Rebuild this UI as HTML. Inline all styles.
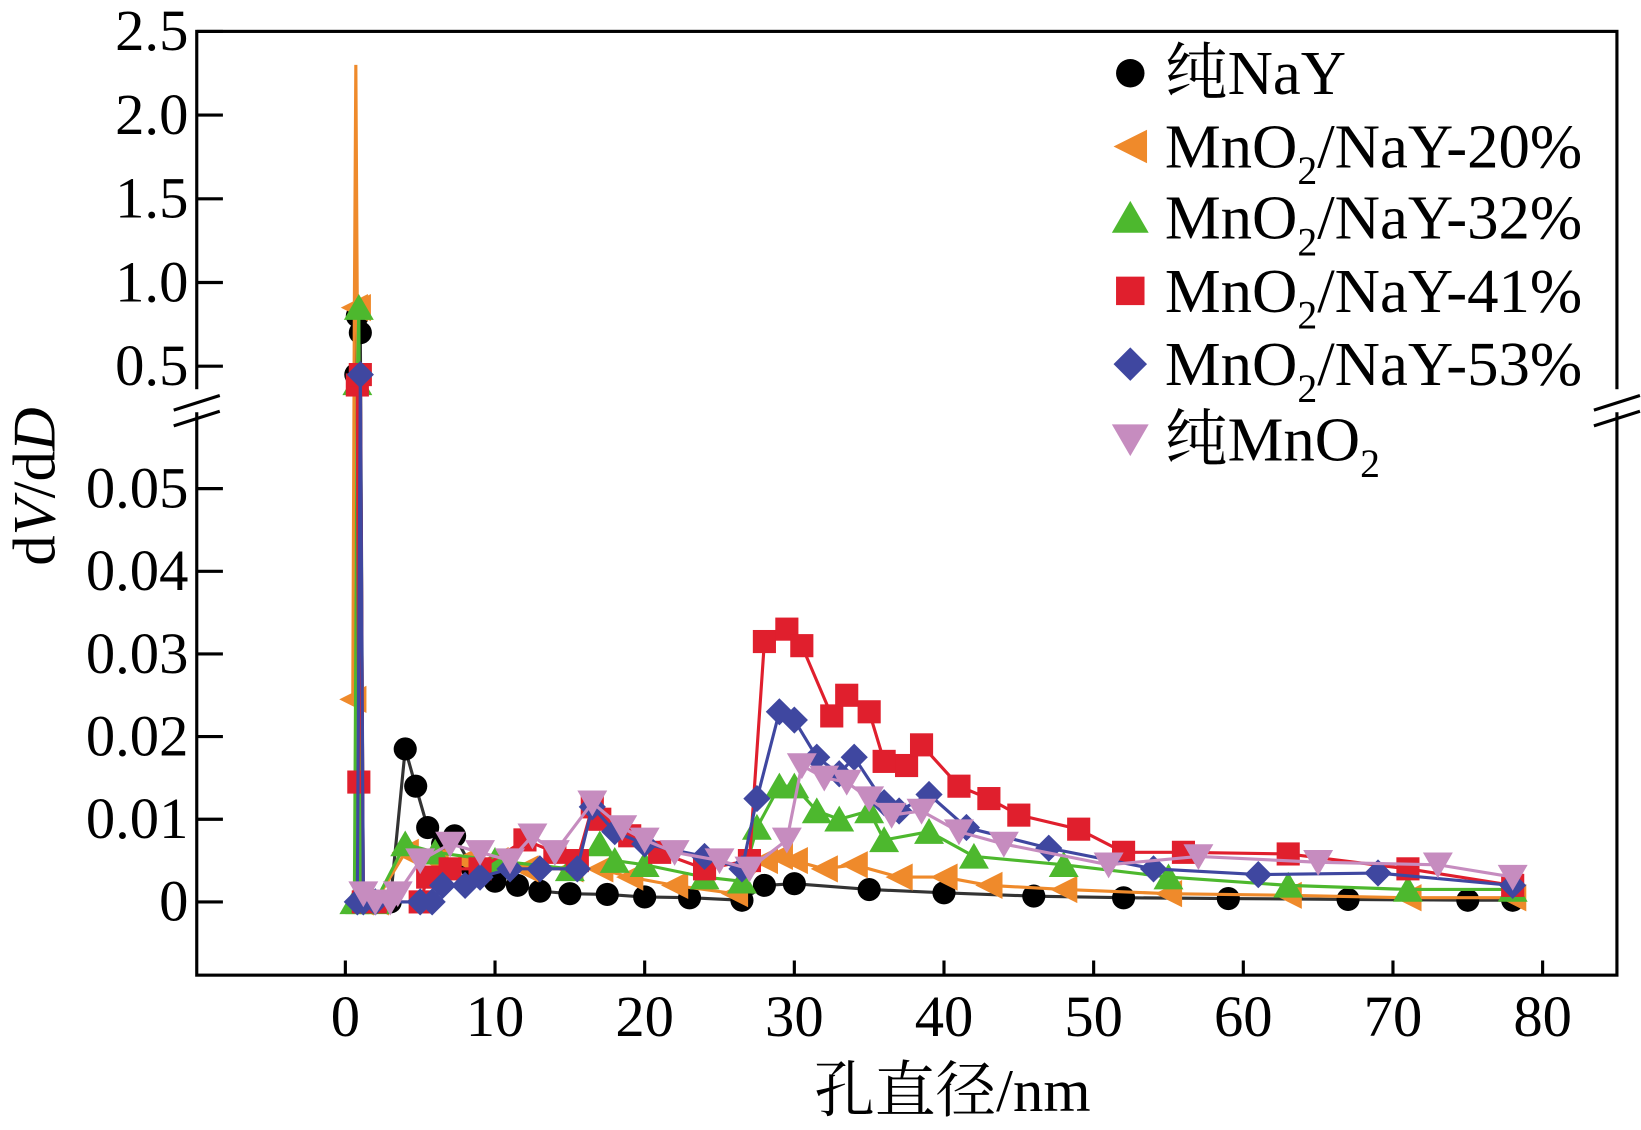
<!DOCTYPE html>
<html><head><meta charset="utf-8"><style>
body{margin:0;background:#fff}
svg{display:block}
svg text{font-family:"Liberation Serif","Noto Serif CJK SC",serif;fill:#000}
</style></head><body>
<svg width="1641" height="1130" viewBox="0 0 1568 1080" preserveAspectRatio="none" xmlns="http://www.w3.org/2000/svg">
<g id="axes"></g>
<g id="series"></g>
<g id="legend"></g>
</svg>
<script>
const xTicks=[0,10,20,30,40,50,60,70,80];
const yLowTicks=[0,0.01,0.02,0.03,0.04,0.05];
const yLowLabels=["0","0.01","0.02","0.03","0.04","0.05"];
const yHighTicks=[0.5,1.0,1.5,2.0,2.5];
const yHighLabels=["0.5","1.0","1.5","2.0","2.5"];
const seriesNames=["纯NaY","MnO2/NaY-20%","MnO2/NaY-32%","MnO2/NaY-41%","MnO2/NaY-53%","纯MnO2"];
const nayX=[0.7,0.8,1.0,1.2,2,3,4,4.7,5.5,6.5,7.3,8.5,10,11.5,13,15,17.5,20,23,26.5,28,30,35,40,46,52,59,67,75,78];
const nayY=[0.45,0.8,0.7,0,0,0,0.0185,0.014,0.009,0.007,0.008,0.004,0.0025,0.002,0.0013,0.001,0.0009,0.0006,0.0005,0.0002,0.002,0.0022,0.0015,0.0011,0.0007,0.0005,0.0004,0.0003,0.0002,0.0002];
const m20X=[0.5,0.6,0.7,0.8,1.0,2,4,6,8,10,12,15,17,19,22,26,28,29,30,32,34,37,40,43,48,55,63,71,78];
const m20Y=[0.0245,0.85,2.3,0.85,0,0,0.006,0.005,0.005,0.005,0.004,0.004,0.004,0.003,0.002,0.001,0.005,0.0055,0.005,0.004,0.0045,0.003,0.003,0.002,0.0015,0.001,0.0008,0.0005,0.0005];
const m32X=[0.6,0.8,0.9,1.0,2,4,6,10,15,17,18,20,24,26.5,27.5,29,30,31.5,33,35,36,39,42,48,55,63,71,78];
const m32Y=[0,0.4,0.85,0,0,0.007,0.006,0.005,0.004,0.007,0.005,0.0045,0.003,0.0025,0.009,0.014,0.014,0.011,0.01,0.011,0.0075,0.0085,0.0055,0.0045,0.003,0.002,0.0015,0.0015];
const m41X=[0.8,0.9,1.0,1.2,2,5,5.5,7,9,12,14,15.5,16.5,17,19,21,24,27,28,29.5,30.5,32.5,33.5,35,36,37.5,38.5,41,43,45,49,52,56,63,71,78];
const m41Y=[0.37,0.0145,0.45,0,0,0,0.003,0.004,0.004,0.0075,0.006,0.005,0.0115,0.01,0.008,0.006,0.004,0.005,0.0315,0.033,0.031,0.0225,0.025,0.023,0.017,0.0165,0.019,0.014,0.0125,0.0105,0.0088,0.006,0.006,0.0058,0.004,0.002];
const m53X=[0.8,1.0,1.2,2,5,5.8,6.5,8,9,11,13,15.5,16.5,18,20,24,26.5,27.5,29,30,31.5,33,34,36,37,39,41.5,47,54,61,69,78];
const m53Y=[0,0.45,0,0,0,0,0.002,0.002,0.003,0.004,0.004,0.004,0.0115,0.0085,0.007,0.0055,0.004,0.0125,0.023,0.022,0.0175,0.0155,0.0175,0.012,0.011,0.013,0.009,0.0065,0.004,0.0033,0.0035,0.002];
const mnoX=[1.2,2,3,3.5,5,7,9,11,12.5,14,16.5,18.5,20,22,25,27,29.5,30.5,32,33.5,35,36.5,38.5,41,44,51,57,65,73,78];
const mnoY=[0.001,0,0,0.001,0.005,0.007,0.006,0.005,0.008,0.006,0.012,0.009,0.0075,0.006,0.005,0.004,0.0075,0.0165,0.015,0.0145,0.0125,0.0105,0.011,0.0085,0.007,0.0045,0.0055,0.0048,0.0045,0.003];

const NS="http://www.w3.org/2000/svg";
const L=188,R=1545,T=30,B=932;
function X(v){return 330+v*(1474-330)/80;}
function Y(v){
  if(v<=0.06) return 862-v*7900;
  if(v>=0.4) return 350-(v-0.5)*160;
  return 388-(v-0.06)/(0.34)*22;
}
function mk(tag,attrs,parent){const e=document.createElementNS(NS,tag);for(const k in attrs)e.setAttribute(k,attrs[k]);parent.appendChild(e);return e;}
const ax=document.getElementById('axes');
const fr=mk('rect',{x:L,y:T,width:R-L,height:B-T,fill:'none',stroke:'#000','stroke-width':3},ax);


const gap=mk('rect',{x:L-12,y:372,width:24,height:22,fill:'#fff'},ax);


const gap2=mk('rect',{x:R-12,y:372,width:24,height:22,fill:'#fff'},ax);


[[L,385],[L,400],[R,385],[R,400]].forEach(p=>{
  const s=mk('line',{x1:p[0]-22,y1:p[1]+7,x2:p[0]+22,y2:p[1]-7,stroke:'#000','stroke-width':3},ax);
  
  
});
xTicks.forEach(t=>{
  const l=mk('line',{x1:X(t),y1:B,x2:X(t),y2:B-14,stroke:'#000','stroke-width':3},ax);
  
  
  const tx=mk('text',{x:X(t),y:990,'font-size':56,'text-anchor':'middle'},ax);
  tx.textContent=String(t);
  
  
});
function yt(vals,labels){
  vals.forEach((t,i)=>{
    const l=mk('line',{x1:L,y1:Y(t),x2:L+25,y2:Y(t),stroke:'#000','stroke-width':3},ax);
    
    
    const tx=mk('text',{x:180,y:Y(t)+18,'font-size':56,'text-anchor':'end'},ax);
    tx.textContent=labels[i];
    
    
  });
}
yt(yLowTicks,yLowLabels);yt(yHighTicks,yHighLabels);
const xt=mk('text',{x:910,y:1062,'font-size':58,'text-anchor':'middle'},ax);
xt.textContent='孔直径/nm';


const ytt=mk('text',{x:0,y:0,'font-size':58,'text-anchor':'middle',transform:'translate(52,465) rotate(-90)'},ax);
ytt.innerHTML='d<tspan font-style="italic">V</tspan>/d<tspan font-style="italic">D</tspan>';



const colors=['#000','#ef8a2b','#4db82e','#e01f2d','#3f47a0','#c68cbf'];
const lineColors=['#333','#ef8a2b','#4db82e','#e01f2d','#3f47a0','#c68cbf'];
const shapes=['circle','left','up','square','diamond','down'];
function marker(shape,x,y,c,g,s){
  s=s||13;let e;
  if(shape==='circle')e=mk('circle',{cx:x,cy:y,r:s*0.85,fill:c},g);
  else if(shape==='square')e=mk('rect',{x:x-s*0.85,y:y-s*0.85,width:s*1.7,height:s*1.7,fill:c},g);
  else{
    let p;
    if(shape==='left')p=[[x-s,y],[x+s,y-s],[x+s,y+s]];
    if(shape==='up')p=[[x,y-s],[x+s*1.1,y+s*0.9],[x-s*1.1,y+s*0.9]];
    if(shape==='down')p=[[x,y+s],[x+s*1.1,y-s*0.9],[x-s*1.1,y-s*0.9]];
    if(shape==='diamond')p=[[x,y-s],[x+s,y],[x,y+s],[x-s,y]];
    e=mk('polygon',{points:p.map(q=>q.join(',')).join(' '),fill:c},g);
  }
  return e;
}
const sg=document.getElementById('series');
const data=[[nayX,nayY],[m20X,m20Y],[m32X,m32Y],[m41X,m41Y],[m53X,m53Y],[mnoX,mnoY]];
data.forEach((d,i)=>{
  const g=mk('g',{},sg);
  
  
  const pts=d[0].map((x,j)=>X(x).toFixed(1)+','+Y(d[1][j]).toFixed(1)).join(' ');
  const pl=mk('polyline',{points:pts,fill:'none',stroke:lineColors[i],'stroke-width':3},g);
  
  
  d[0].forEach((x,j)=>{
    if(d[1][j]>2)return;
    const m=marker(shapes[i],X(x),Y(d[1][j]),colors[i],g);
    
    
  });
});
const lg=document.getElementById('legend');
const rows=[70,140,208,278,348,420];
rows.forEach((y,i)=>{
  const m=marker(shapes[i],1080,y,colors[i],lg,16);
  
  
  const t=mk('text',{x:1113,y:y+20,'font-size':60},lg);
  const n=seriesNames[i];
  if(n.indexOf('MnO2')>=0){
    const parts=n.split('MnO2');
    t.innerHTML=parts[0]+'MnO<tspan font-size="38" dy="16">2</tspan><tspan dy="-16">'+parts[1]+'</tspan>';
  } else t.textContent=n;
  
  
});
</script>
</body></html>
